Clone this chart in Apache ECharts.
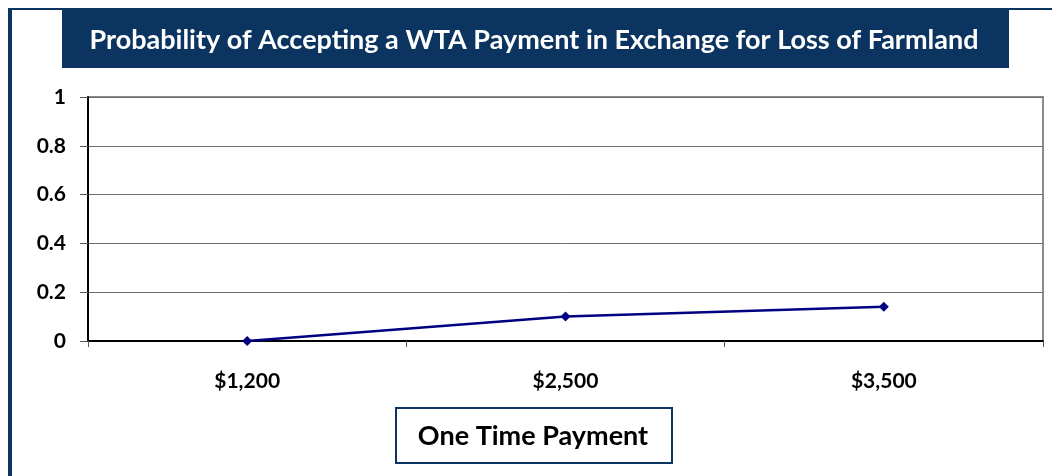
<!DOCTYPE html>
<html>
<head>
<meta charset="utf-8">
<script src="https://cdn.jsdelivr.net/npm/echarts@6/dist/echarts.min.js"></script>
<style>
  html, body { margin: 0; padding: 0; background: #fff; }
  #main { width: 1052px; height: 476px; }
</style>
</head>
<body>
<div id="main"></div>
<script>
// data
const payments = ['$1,200', '$2,500', '$3,500'];
const probability = [0, 0.1, 0.14];
const yTicks = { min: 0, max: 1, step: 0.2 };
const chartTitle = 'Probability of Accepting a WTA Payment in Exchange for Loss of Farmland';
const xTitle = 'One Time Payment';

const navy = '#0b3560';
const font = 'Lato, "Open Sans", sans-serif';

let option = {
  animation: false,
  grid: {
    left: 88,
    top: 97,
    right: 9,
    bottom: 135,
    show: true,
    borderColor: '#8c8c8c',
    borderWidth: 2,
    containLabel: false
  },
  xAxis: {
    type: 'category',
    data: payments,
    boundaryGap: true,
    axisLine: { lineStyle: { color: '#000', width: 2 } },
    axisTick: { show: true, interval: 0, length: 6, lineStyle: { color: '#555', width: 1 } },
    axisLabel: {
      color: '#000',
      fontFamily: font,
      fontWeight: 'bold',
      fontSize: 21,
      margin: 30
    },
    splitLine: { show: false }
  },
  yAxis: {
    type: 'value',
    min: yTicks.min,
    max: yTicks.max,
    interval: yTicks.step,
    axisLine: { show: true, lineStyle: { color: '#000', width: 2 } },
    axisTick: { show: true, length: 8, lineStyle: { color: '#555', width: 1 } },
    axisLabel: {
      color: '#000',
      fontFamily: font,
      fontWeight: 'bold',
      fontSize: 21,
      margin: 22
    },
    splitLine: { show: true, lineStyle: { color: '#6e6e6e', width: 1 } }
  },
  series: [
    {
      type: 'line',
      data: probability,
      symbol: 'diamond',
      symbolSize: 10,
      itemStyle: { color: '#000080' },
      lineStyle: { color: '#000080', width: 2.5 }
    }
  ],
  graphic: [
    // outer frame
    { type: 'rect', shape: { x: 8, y: 8, width: 1044, height: 2 }, style: { fill: navy } },
    { type: 'rect', shape: { x: 8, y: 8, width: 4, height: 468 }, style: { fill: navy } },
    // title box
    { type: 'rect', shape: { x: 62, y: 8, width: 947, height: 60 }, style: { fill: navy } },
    {
      type: 'text', x: 534, y: 40,
      style: {
        text: chartTitle, fill: '#fff', font: 'bold 27px ' + font,
        textAlign: 'center', textVerticalAlign: 'middle'
      }
    },
    // x axis title box
    {
      type: 'rect', shape: { x: 396, y: 408, width: 276, height: 55 },
      style: { fill: '#fff', stroke: navy, lineWidth: 2 }
    },
    {
      type: 'text', x: 533, y: 436,
      style: {
        text: xTitle, fill: '#000', font: 'bold 27px ' + font,
        textAlign: 'center', textVerticalAlign: 'middle'
      }
    }
  ]
};

let myChart = echarts.init(document.getElementById('main'), null, { renderer: 'canvas' });
myChart.setOption(option);
</script>
</body>
</html>
